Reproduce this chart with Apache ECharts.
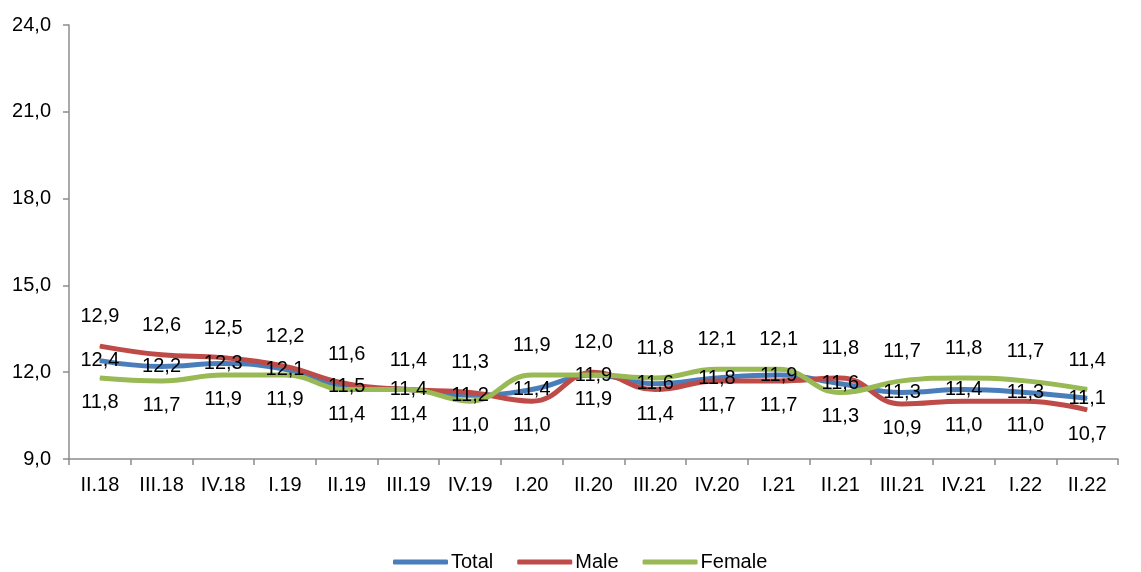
<!DOCTYPE html>
<html>
<head>
<meta charset="utf-8">
<script src="https://cdn.jsdelivr.net/npm/echarts@6/dist/echarts.min.js"></script>
<style>
html,body{margin:0;padding:0;background:#fff;}
#c{width:1141px;height:572px;}
</style>
</head>
<body>
<div id="c"></div>
<script>
var categories = ['II.18','III.18','IV.18','I.19','II.19','III.19','IV.19','I.20','II.20','III.20','IV.20','I.21','II.21','III.21','IV.21','I.22','II.22'];
var total  = [12.4,12.2,12.3,12.1,11.5,11.4,11.2,11.4,11.9,11.6,11.8,11.9,11.6,11.3,11.4,11.3,11.1];
var male   = [12.9,12.6,12.5,12.2,11.6,11.4,11.3,11.0,12.0,11.4,11.7,11.7,11.8,10.9,11.0,11.0,10.7];
var female = [11.8,11.7,11.9,11.9,11.4,11.4,11.0,11.9,11.9,11.8,12.1,12.1,11.3,11.7,11.8,11.7,11.4];
var yTicks = [9,12,15,18,21,24];

var FONT = '"Liberation Sans", Arial, sans-serif';
var fmt = function (v) { return Number(v).toFixed(1).replace('.', ','); };

function withPos(arr, other, isMale) {
  return arr.map(function (v, i) {
    var up = isMale ? (v >= other[i]) : (v > other[i]);
    return { value: v, label: { position: up ? 'top' : 'bottom', distance: up ? 19 : 14 } };
  });
}

var chart = echarts.init(document.getElementById('c'));
var labelBase = { show: true, color: '#000', fontFamily: FONT, fontSize: 20,
  formatter: function (p) { return fmt(p.value); } };

function line(name, color, data, label) {
  return {
    name: name, type: 'line', data: data, smooth: 0.45,
    symbol: 'circle', symbolSize: 1, showSymbol: true,
    color: color,
    itemStyle: { color: color },
    lineStyle: { color: color, width: 5 },
    label: label,
    emphasis: { disabled: true },
    animation: false
  };
}

chart.setOption({
  backgroundColor: '#fff',
  animation: false,
  grid: { left: 69, right: 23, top: 25, bottom: 113 },
  legend: {
    left: 388, top: 547,
    icon: 'roundRect', itemWidth: 55, itemHeight: 5, itemGap: 24,
    textStyle: { fontFamily: FONT, fontSize: 20, color: '#000', padding: [0, 0, 0, -2] },
    data: ['Total', 'Male', 'Female']
  },
  xAxis: {
    type: 'category', data: categories, boundaryGap: true,
    axisLine: { lineStyle: { color: '#8c8c8c', width: 1.5 } },
    axisTick: { show: true, length: 6, lineStyle: { color: '#8c8c8c', width: 1.5 } },
    axisLabel: { color: '#000', fontFamily: FONT, fontSize: 20, margin: 16, interval: 0 },
    splitLine: { show: false }
  },
  yAxis: {
    type: 'value', min: yTicks[0], max: yTicks[yTicks.length - 1], interval: 3,
    axisLine: { show: true, lineStyle: { color: '#8c8c8c', width: 1.5 } },
    axisTick: { show: true, length: 6, lineStyle: { color: '#8c8c8c', width: 1.5 } },
    axisLabel: { color: '#000', fontFamily: FONT, fontSize: 20, margin: 18, formatter: fmt },
    splitLine: { show: false }
  },
  series: [
    line('Total', '#4A7EBB', total, Object.assign({}, labelBase, { position: 'inside' })),
    line('Male', '#BE4B48', withPos(male, female, true), labelBase),
    line('Female', '#98B954', withPos(female, male, false), labelBase)
  ]
});
</script>
</body>
</html>
